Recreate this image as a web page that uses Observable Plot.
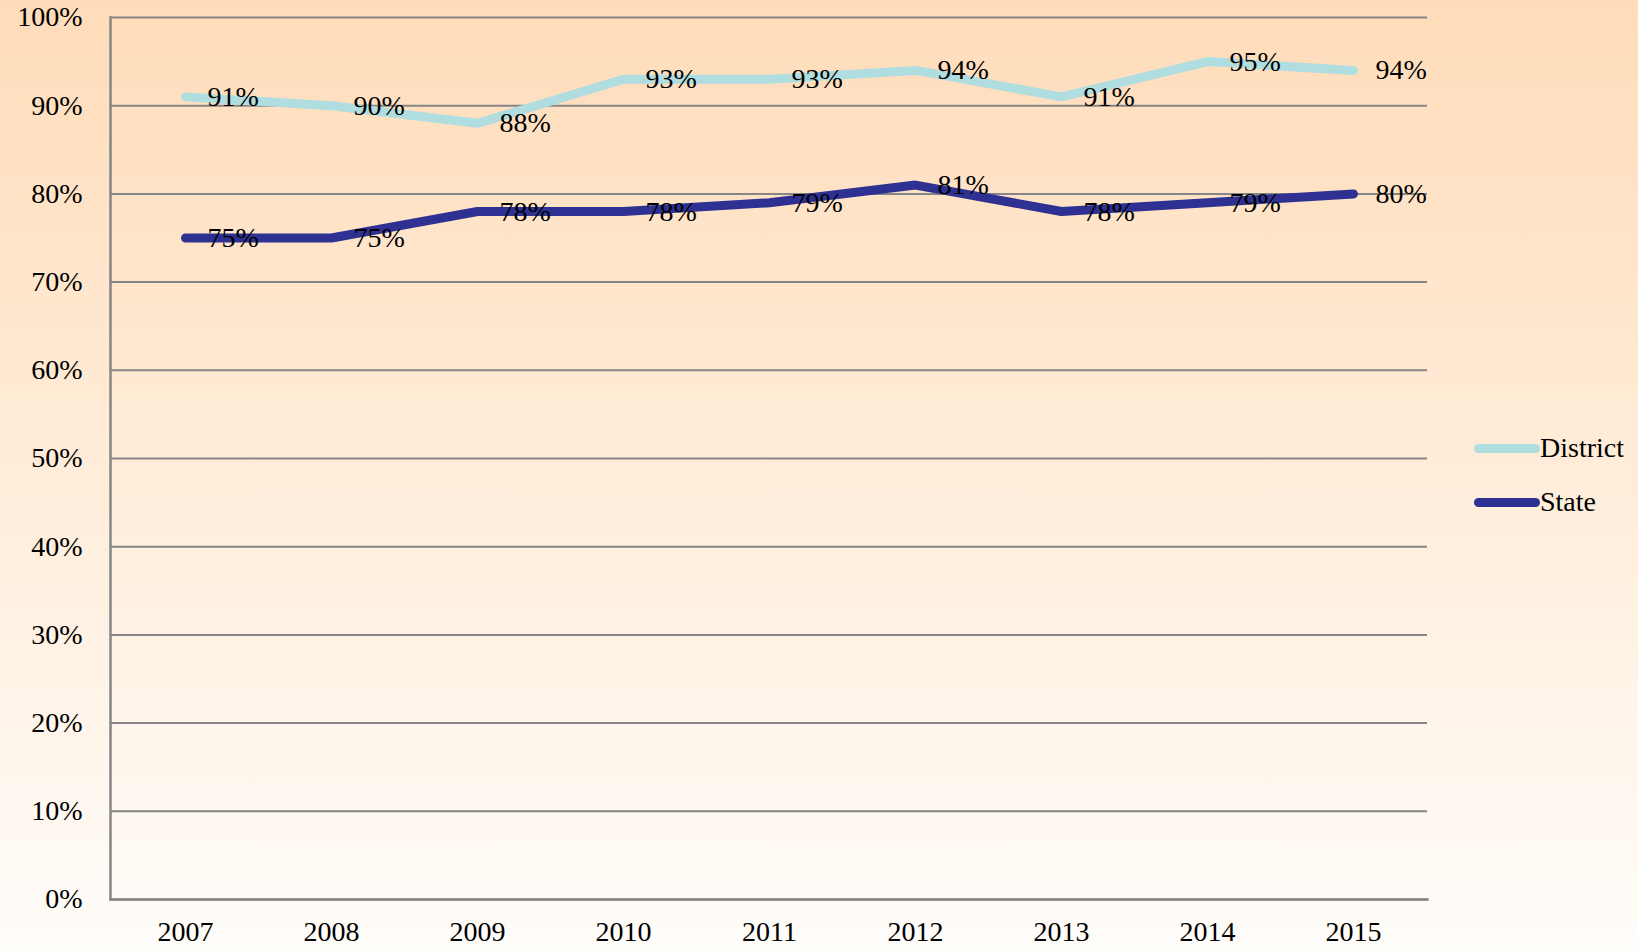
<!DOCTYPE html>
<html>
<head>
<meta charset="utf-8">
<script src="https://cdn.jsdelivr.net/npm/d3@7"></script>
<script src="https://cdn.jsdelivr.net/npm/@observablehq/plot@0.6"></script>
<style>
  html, body { margin: 0; padding: 0; }
  body {
    width: 1638px; height: 951px; overflow: hidden; position: relative;
    background: linear-gradient(to bottom, #ffdcb9 0%, #fffdfa 100%);
    font-family: "Liberation Serif", "Times New Roman", serif;
  }
  #chart { position: absolute; left: 0; top: 0; }
  #chart svg, #chart svg text { font-family: "Liberation Serif", "Times New Roman", serif !important; }
  #legend { position: absolute; left: 1474px; top: 421px; font-size: 28px; color: #000; }
  .row { display: flex; align-items: center; height: 54px; }
  .sw { width: 66px; height: 9px; border-radius: 5px; }
  .lbl { line-height: 1; }
</style>
</head>
<body>
<div id="chart"></div>
<div id="legend"></div>
<script>
const years = ["2007","2008","2009","2010","2011","2012","2013","2014","2015"];
const districtValues = [91, 90, 88, 93, 93, 94, 91, 95, 94];
const stateValues = [75, 75, 78, 78, 79, 81, 78, 79, 80];
const seriesNames = ["District", "State"];
const seriesColors = ["#b0dde0", "#2e3192"];
const yTicks = [0, 10, 20, 30, 40, 50, 60, 70, 80, 90, 100];

const district = years.map((y, i) => ({year: y, value: districtValues[i], series: "District"}));
const state = years.map((y, i) => ({year: y, value: stateValues[i], series: "State"}));

const font = '"Liberation Serif", "Times New Roman", serif';
const chart = Plot.plot({
  width: 1638,
  height: 951,
  marginLeft: 110,
  marginRight: 211,
  marginTop: 17,
  marginBottom: 52,
  style: {background: "transparent", fontFamily: font, fontSize: "28px", color: "#000"},
  x: {type: "point", domain: years, padding: 0.48, label: null},
  y: {domain: [0, 100], label: null},
  marks: [
    Plot.gridY(yTicks, {stroke: "#868686", strokeOpacity: 1, strokeWidth: 2}),
    Plot.frame({anchor: "left", stroke: "#868686", strokeWidth: 2.5}),
    Plot.frame({anchor: "bottom", stroke: "#868686", strokeWidth: 2.5}),
    Plot.axisY(yTicks, {tickSize: 0, tickPadding: 28, tickFormat: d => d + "%", fontSize: 28, fontFamily: font, fill: "#000"}),
    Plot.axisX(years, {tickSize: 0, tickPadding: 22, fontSize: 28, fontFamily: font, fill: "#000"}),
    Plot.line(district, {x: "year", y: "value", stroke: seriesColors[0], strokeWidth: 9, strokeLinecap: "round", strokeLinejoin: "miter"}),
    Plot.line(state, {x: "year", y: "value", stroke: seriesColors[1], strokeWidth: 9, strokeLinecap: "round", strokeLinejoin: "miter"}),
    Plot.text(district, {x: "year", y: "value", text: d => d.value + "%", dx: 22, textAnchor: "start", fill: "#000", fontSize: 28, fontFamily: font}),
    Plot.text(state, {x: "year", y: "value", text: d => d.value + "%", dx: 22, textAnchor: "start", fill: "#000", fontSize: 28, fontFamily: font})
  ]
});
document.getElementById("chart").appendChild(chart);

const legend = document.getElementById("legend");
seriesNames.forEach((name, i) => {
  const row = document.createElement("div");
  row.className = "row";
  const sw = document.createElement("div");
  sw.className = "sw";
  sw.style.background = seriesColors[i];
  const lbl = document.createElement("span");
  lbl.className = "lbl";
  lbl.textContent = name;
  row.appendChild(sw);
  row.appendChild(lbl);
  legend.appendChild(row);
});
</script>
</body>
</html>
